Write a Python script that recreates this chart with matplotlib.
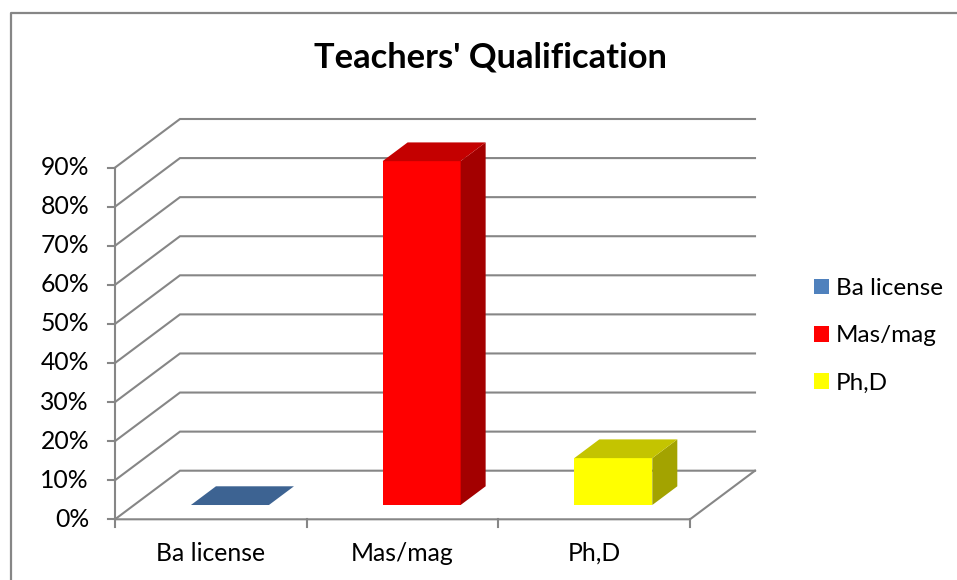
import matplotlib
matplotlib.use("Agg")
import matplotlib.pyplot as plt
from matplotlib.patches import Polygon, Patch
from matplotlib.lines import Line2D
import numpy as np

categories = ["Ba license", "Mas/mag", "Ph,D"]
values = [0, 88, 12]          # percent
colors = ["#4F81BD", "#FF0000", "#FFFF00"]
yticks = list(range(0, 100, 10))
title = "Teachers' Qualification"

plt.rcParams['font.family'] = ['Lato', 'DejaVu Sans']
grid_col = "#868686"

W, H = 957, 580
fig = plt.figure(figsize=(W / 100, H / 100), dpi=100)
fig.patch.set_facecolor("white")

# axes placed so that the front floor corner sits at (115, 519) px
ax = fig.add_axes([115 / W, (H - 519.3) / H, 640 / W, 400.3 / H])

# oblique "3d" offset of the back wall, in data units
DX = 0.339       # categories
DY = 12.44       # percent
d0 = 0.294       # depth of bar front face
dd = 0.385       # bar depth
bw = 0.407       # bar width


def proj(x, y, d):
    return (x + d * DX, y + d * DY)


def shade(c, f):
    r, g, b = matplotlib.colors.to_rgb(c)
    return (r * f, g * f, b * f)


ncat = len(categories)
ax.set_xlim(0, ncat + DX)
ax.set_ylim(0, yticks[-1] + DY)
ax.axis("off")

# gridlines: diagonal on the left side wall + horizontal on the back wall
for t in yticks:
    x0, y0 = proj(0, t, 0)
    x1, y1 = proj(0, t, 1)
    x2, y2 = proj(ncat, t, 1)
    ax.plot([x0, x1, x2], [y0, y1, y2], color=grid_col, lw=1.5,
            solid_joinstyle="miter", clip_on=False, zorder=1)

# floor edges
fx, fy = proj(ncat, 0, 1)
ax.plot([0, ncat, fx], [0, 0, fy], color=grid_col, lw=1.5, clip_on=False, zorder=1)
# vertical value axis
ax.plot([0, 0], [0, yticks[-1]], color=grid_col, lw=1.5, clip_on=False, zorder=1)

# tick marks
px_x = 640 / (ncat + DX)
px_y = 400.3 / (yticks[-1] + DY)
fs = 17.8
for t in yticks:
    ax.plot([0, -7 / px_x], [t, t], color=grid_col, lw=1.5, clip_on=False)
    ax.text(-26 / px_x, t, f"{t}%", ha="right", va="center", fontsize=fs)
for i in range(ncat + 1):
    ax.plot([i, i], [0, -8 / px_y], color=grid_col, lw=1.5, clip_on=False)
for i, lab in enumerate(categories):
    ax.text(i + 0.5, -34 / px_y, lab, ha="center", va="center", fontsize=fs)

# bars
for i, (v, c) in enumerate(zip(values, colors)):
    cx = i + 0.5 + d0 * DX
    bottom = d0 * DY
    if v > 0:
        ax.bar(cx, v, bottom=bottom, width=bw, color=c, lw=0, zorder=3)
    xl, xr = i + 0.5 - bw / 2, i + 0.5 + bw / 2
    side = [proj(xr, 0, d0), proj(xr, 0, d0 + dd), proj(xr, v, d0 + dd), proj(xr, v, d0)]
    top = [proj(xl, v, d0), proj(xr, v, d0), proj(xr, v, d0 + dd), proj(xl, v, d0 + dd)]
    if v > 0:
        ax.add_patch(Polygon(side, closed=True, fc=shade(c, 0.64), lw=0, zorder=3))
    ax.add_patch(Polygon(top, closed=True, fc=shade(c, 0.77), lw=0, zorder=3))

# title
fig.text(490 / W, 1 - 58 / H, title, ha="center", va="center",
         fontsize=24.8, fontweight="bold")

# legend
handles = [Patch(facecolor=c, edgecolor="none") for c in colors]
fig.legend(handles, categories, loc="center left",
           bbox_to_anchor=(814 / W, 1 - 336 / H), frameon=False,
           borderpad=0, borderaxespad=0,
           fontsize=17.5, handlelength=0.6, handleheight=0.6,
           handletextpad=0.3, labelspacing=1.08)

# chart border (left and top edges)
fig.add_artist(Line2D([11 / W, 11 / W, 1], [0, 1 - 13 / H, 1 - 13 / H],
                      transform=fig.transFigure, color=grid_col, lw=1.6))

fig.savefig("out.png", dpi=100)
